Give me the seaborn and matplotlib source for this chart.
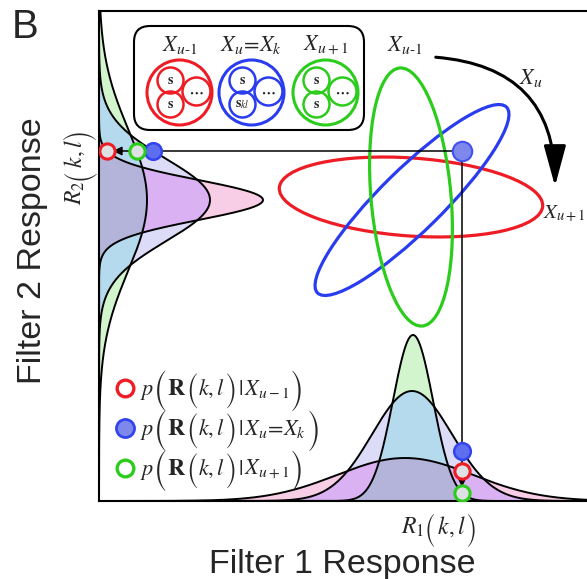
import numpy as np
import pandas as pd
import seaborn as sns
import matplotlib
matplotlib.use('Agg')
import matplotlib.pyplot as plt
from matplotlib.patches import Ellipse, Circle, FancyBboxPatch, FancyArrowPatch
from matplotlib.transforms import IdentityTransform

# classes: X_{u-1} (red), X_u = X_k (blue), X_{u+1} (green)
class_names = ['X_{u-1}', 'X_u=X_k', 'X_{u+1}']
class_colors = ['#ee1c24', '#2a3cf0', '#2ccc1c']

# 2D response ellipses (axis units = pixels inside the frame)
ell_cx = [312, 313, 312]
ell_cy = [304, 301, 304]
ell_major = [264, 265, 259]
ell_minor = [78, 62, 80]
ell_angle = [-4, 44.5, 95]

# marginal along filter 1 (bottom)
mx_center = [306, 313, 314]
mx_height = [43, 110, 166]
mx_sigma = [68, 40, 20]

# marginal along filter 2 (left)
my_center = [301, 301, 301]
my_height = [164, 111, 48]
my_sigma = [20, 41, 71]

# observed response R(k,l)
r1_obs = 363
r2_obs = 350

region_colors = {'r': '#f8cde6', 'b': '#dcdcf8', 'g': '#d3f5cd',
                 'rb': '#dab2f4', 'bg': '#b5daee', 'rg': '#d0d4d0', 'rbg': '#b4b4da'}
keys = ['r', 'b', 'g']

sns.set_theme(style='white')
plt.rcParams['font.family'] = ['Liberation Sans', 'DejaVu Sans']
plt.rcParams['mathtext.fontset'] = 'stix'

W, H = 587, 579
fig = plt.figure(figsize=(W / 100, H / 100), dpi=100)
ax = fig.add_axes([99 / W, 78 / H, 488 / W, 490 / H])
ax.set_xlim(0, 488)
ax.set_ylim(0, 490)
ax.set_xticks([])
ax.set_yticks([])
for s in ['left', 'top', 'bottom']:
    ax.spines[s].set_color('black')
    ax.spines[s].set_linewidth(1.5)
ax.spines['right'].set_visible(False)
renderer = fig.canvas.get_renderer()


def bump(t, c, h, s):
    return h * np.exp(-0.5 * ((t - c) / s) ** 2)


def fill_regions(t, curves, vertical=False):
    for name, col in region_colors.items():
        inside = [i for i, k in enumerate(keys) if k in name]
        outside = [i for i in range(3) if i not in inside]
        upper = np.min([curves[i] for i in inside], axis=0)
        if outside:
            lower = np.max([curves[i] for i in outside], axis=0)
        else:
            lower = np.zeros_like(t)
        m = upper > lower
        if vertical:
            ax.fill_betweenx(t, lower, upper, where=m, interpolate=True, color=col, lw=0, zorder=1)
        else:
            ax.fill_between(t, lower, upper, where=m, interpolate=True, color=col, lw=0, zorder=1)


# write a formula piece by piece (pixel coords from top-left), so the brackets can be tall
def formula(px, py, pieces, rotated=False):
    pos = px if not rotated else H - py
    for s, fs, fam, off in pieces:
        kw = dict(fontsize=fs, transform=IdentityTransform(), ha='left', va='baseline', zorder=8)
        if fam:
            kw['family'] = fam
        if rotated:
            t = fig.text(px - off, pos, s, rotation=90, rotation_mode='anchor', **kw)
            pos += t.get_window_extent(renderer).height
        else:
            t = fig.text(pos, H - py + off, s, **kw)
            pos += t.get_window_extent(renderer).width


xs = np.linspace(0, 488, 3000)
ys = np.linspace(0, 490, 3000)
fx = [bump(xs, mx_center[i], mx_height[i], mx_sigma[i]) for i in range(3)]
fy = [bump(ys, my_center[i], my_height[i], my_sigma[i]) for i in range(3)]

fill_regions(xs, fx)
fill_regions(ys, fy, vertical=True)
for i in range(3):
    sns.lineplot(x=xs, y=fx[i], color='black', lw=1.4, ax=ax, estimator=None, sort=False, legend=False, zorder=2)
    sns.lineplot(x=fy[i], y=ys, color='black', lw=1.4, ax=ax, estimator=None, sort=False, legend=False, zorder=2)

# ellipses
for i in range(3):
    ax.add_patch(Ellipse((ell_cx[i], ell_cy[i]), ell_major[i], ell_minor[i], angle=ell_angle[i],
                         fill=False, ec=class_colors[i], lw=2.3, zorder=3))

# projection arrows
arrow_kw = dict(arrowstyle='-|>', lw=1.1, color='black', mutation_scale=13, shrinkA=0, shrinkB=0)
ax.annotate('', xy=(14, r2_obs), xytext=(r1_obs, r2_obs), arrowprops=arrow_kw, zorder=4)
ax.annotate('', xy=(r1_obs, 14), xytext=(r1_obs, r2_obs), arrowprops=arrow_kw, zorder=4)

ax.plot(r1_obs, r2_obs, 'o', ms=14, mfc='#7d88ea', mec='#4050f0', mew=1.5, zorder=6)

# likelihood dots on marginals
for i in range(3):
    vx = bump(r1_obs, mx_center[i], mx_height[i], mx_sigma[i])
    vy = bump(r2_obs, my_center[i], my_height[i], my_sigma[i])
    if keys[i] == 'b':
        kw = dict(mfc='#5d6ff0', mec='#3344ee', mew=1.8, ms=12)
    else:
        kw = dict(mfc='#dde1e3', mec=class_colors[i], mew=2.2, ms=11)
    ax.plot(r1_obs, vx, 'o', zorder=7, **kw)
    ax.plot(vy, r2_obs, 'o', zorder=7, **kw)

# class legend box
ax.add_patch(FancyBboxPatch((35, 371), 230, 104, boxstyle='round,pad=0,rounding_size=16',
                            fc='white', ec='black', lw=1.5, zorder=5))
box_cx = [80.5, 152.5, 226.5]
box_labels = [r'$X_{u\text{-}1}$', r'$X_u\!=\!X_k$', r'$X_{u+1}$']
inner_dx = [-9, -9, 17]
inner_dy = [12, -12, 1]
inner_r = [13, 13, 14]
for i in range(3):
    cx, cy = box_cx[i], 408.5
    ax.add_patch(Circle((cx, cy), 32.5, fill=False, ec=class_colors[i], lw=2.2, zorder=6))
    inner_txt = [r'$\mathbf{s}$', r'$\mathbf{s}_{kl}$' if i == 1 else r'$\mathbf{s}$', r'$\mathbf{\cdots}$']
    for j in range(3):
        ax.add_patch(Circle((cx + inner_dx[j], cy + inner_dy[j]), inner_r[j], fill=False,
                            ec=class_colors[i], lw=1.8, zorder=6))
        ax.text(cx + inner_dx[j], cy + inner_dy[j], inner_txt[j], ha='center', va='center',
                fontsize=10, zorder=7)
    ax.text(cx, 456, box_labels[i], ha='center', va='center', fontsize=16, zorder=7)

# transition arrow
ax.text(306, 456, r'$X_{u\text{-}1}$', ha='center', va='center', fontsize=16)
ax.text(465, 288, r'$X_{u+1}$', ha='center', va='center', fontsize=15, clip_on=False)
ax.text(432, 423, r'$X_u$', ha='center', va='center', fontsize=16)
ax.add_patch(FancyArrowPatch((334, 444), (456, 312), connectionstyle='arc3,rad=-0.47',
                             arrowstyle='-|>,head_length=1.25,head_width=0.34', mutation_scale=20,
                             lw=2.2, color='black', zorder=5))

# likelihood legend
leg_py = [395, 435, 475]
leg_given = [r'$X_{u-1}$', r'$X_u\!=\!X_k$', r'$X_{u+1}$']
big = 'STIXSizeTwoSym'
fs = 16
for i in range(3):
    if keys[i] == 'b':
        kw = dict(mfc='#7d88ea', mec='#3344ee', mew=2, ms=13)
    else:
        kw = dict(mfc='white', mec=class_colors[i], mew=2.4, ms=12)
    ax.plot(26, 501 - leg_py[i] + 7, 'o', zorder=7, **kw)
    formula(140, leg_py[i], [(r'$p$', fs, None, 0), ('(', 16, big, -10), (r'$\mathbf{R}$', 17, None, 0),
                             ('(', 14, big, -9), (r'$k,l$', fs, None, 0), (')', 14, big, -9),
                             (r'$\,|\,$', 16, None, 0), (leg_given[i], fs, None, 0), (')', 16, big, -10)])

# outer labels
fig.text(12 / W, 1 - 8 / H, 'B', fontsize=29, ha='left', va='top')
fig.text(33 / W, 1 - 251 / H, 'Filter 2 Response', fontsize=24.5, rotation=90, ha='center', va='center')
fig.text(342 / W, 1 - 573 / H, 'Filter 1 Response', fontsize=24.5, ha='center', va='baseline')
formula(82, 205, [(r'$R_2\,$', 17, None, 0), ('(', 13, big, -8), (r'$\,k,l\,$', 17, None, 0),
                  (')', 13, big, -8)], rotated=True)
formula(401, 534, [(r'$R_1\,$', 17, None, 0), ('(', 13, big, -8), (r'$\,k,l\,$', 17, None, 0),
                   (')', 13, big, -8)])

fig.savefig('out.png', dpi=100)
